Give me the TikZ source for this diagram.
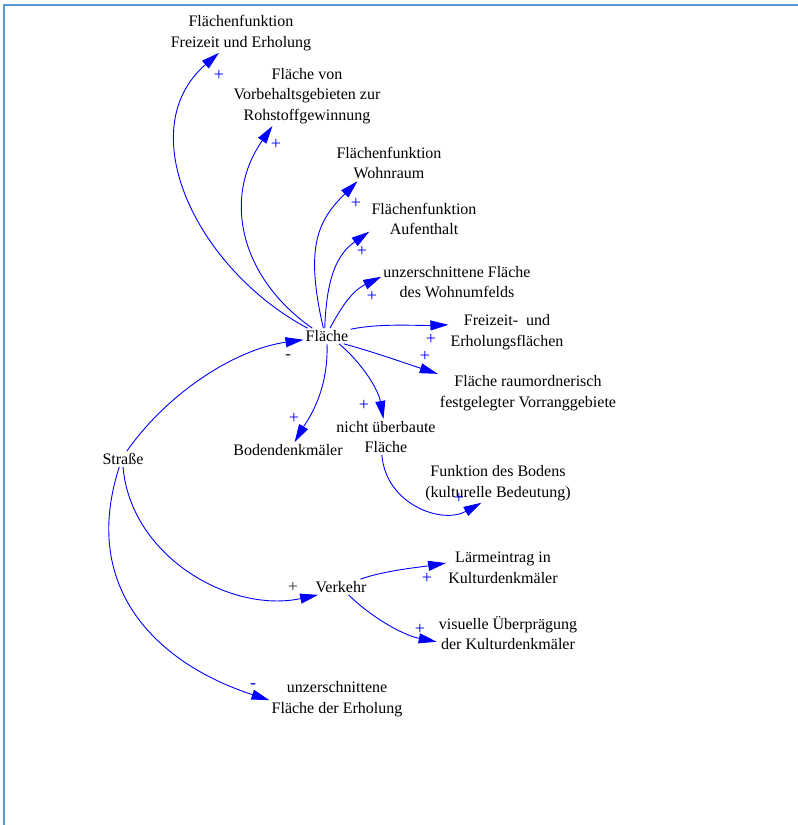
\documentclass[tikz,border=0pt]{standalone}
\usepackage{fontspec}
\setmainfont{Liberation Serif}
\usetikzlibrary{arrows.meta}
\definecolor{frameblue}{HTML}{5B9BD5}
\begin{document}
\begin{tikzpicture}[x=1pt,y=1pt,
  lbl/.style={align=center, inner sep=2pt, text=black, font=\fontsize{16}{20.5}\selectfont},
  pol/.style={inner sep=0pt, text=blue, font=\fontsize{18}{18}\selectfont},
  polk/.style={pol, text=black!80},
  arr/.style={draw=blue, line width=0.9pt, -{Triangle[length=18pt,width=10pt]}}]
\useasboundingbox (0,0) rectangle (798,-825);
\draw[frameblue, line width=2pt] (3.5,-825) -- (3.5,-5) -- (798,-5);

% nodes
\node[lbl] (ff) at (241,-33) {Flächenfunktion\\Freizeit und Erholung};
\node[lbl] (vb) at (307,-96) {Fläche von\\Vorbehaltsgebieten zur\\Rohstoffgewinnung};
\node[lbl] (fw) at (389,-163) {Flächenfunktion\\Wohnraum};
\node[lbl] (fa) at (424,-219) {Flächenfunktion\\Aufenthalt};
\node[lbl] (uw) at (457,-282) {unzerschnittene Fläche\\des Wohnumfelds};
\node[lbl] (fe) at (507,-332) {Freizeit- \ und\\Erholungsflächen};
\node[lbl] (vr) at (528,-393) {Fläche raumordnerisch\\festgelegter Vorranggebiete};
\node[lbl] (fl) at (327,-336) {Fläche};
\node[lbl] (nu) at (386,-437) {nicht überbaute\\Fläche};
\node[lbl] (bd) at (288,-450) {Bodendenkmäler};
\node[lbl] (st) at (123,-459) {Straße};
\node[lbl] (fb) at (498,-483) {Funktion des Bodens\\(kulturelle Bedeutung)};
\node[lbl] (vk) at (341,-587) {Verkehr};
\node[lbl] (la) at (503,-568) {Lärmeintrag in\\Kulturdenkmäler};
\node[lbl] (vu) at (508,-633) {visuelle Überprägung\\der Kulturdenkmäler};
\node[lbl] (ue) at (337,-699) {unzerschnittene\\Fläche der Erholung};

% connectors
\draw[arr] (fl.158) to[out=152,in=221,out distance=125pt,in distance=118pt] (ff.222);
\draw[arr] (fl.152) to[out=145,in=235,out distance=88pt,in distance=88pt] (vb.221);
\draw[arr] (fl.115) to[out=103,in=225,out distance=85pt,in distance=55pt] (fw.210);
\draw[arr] (fl.106) to[out=88,in=215,out distance=50pt,in distance=40pt] (fa.193);
\draw[arr] (fl.69) to[out=62,in=206,out distance=30pt,in distance=30pt] (uw.176);
\draw[arr] (fl.16) to[out=12,in=182,out distance=30pt,in distance=30pt] (fe.173);
\draw[arr] (fl.335) to[out=-15,in=162,out distance=30pt,in distance=30pt] (vr.168);
\draw[arr] (fl.327) to[out=-40,in=100,out distance=30pt,in distance=30pt] (nu.98);
\draw[arr] (fl.270) to[out=272,in=60,out distance=50pt,in distance=22pt] (bd.50);
\draw[arr] (st.64) to[out=55,in=188,out distance=70pt,in distance=70pt] (fl.189);
\draw[arr] (nu.257) to[out=275,in=209,out distance=50pt,in distance=45pt] (fb.230);
\draw[arr] (st.270) to[out=275,in=192,out distance=90pt,in distance=90pt] (vk.199);
\draw[arr] (st.245) to[out=252,in=162,out distance=130pt,in distance=115pt] (ue.181);
\draw[arr] (vk.22) to[out=20,in=189,out distance=25pt,in distance=25pt] (la.175);
\draw[arr] (vk.314) to[out=-45,in=169,out distance=30pt,in distance=35pt] (vu.187);

% polarities
\node[pol] (p1) at (219,-75) {+};
\node[pol] (p2) at (276,-144) {+};
\node[pol] (p3) at (356,-203) {+};
\node[pol] (p4) at (362,-251) {+};
\node[pol] (p5) at (372,-296) {+};
\node[pol] (p6) at (431,-339) {+};
\node[pol] (p7) at (425,-356) {+};
\node[pol] (p8) at (364,-405) {+};
\node[pol] (p9) at (294,-418) {+};
\node[polk] (p10) at (288,-357) {-};
\node[pol] (p11) at (459,-498) {+};
\node[polk] (p12) at (293,-587) {+};
\node[pol] (p13) at (253,-686) {-};
\node[pol] (p14) at (427,-578) {+};
\node[pol] (p15) at (420,-629) {+};
\end{tikzpicture}
\end{document}
